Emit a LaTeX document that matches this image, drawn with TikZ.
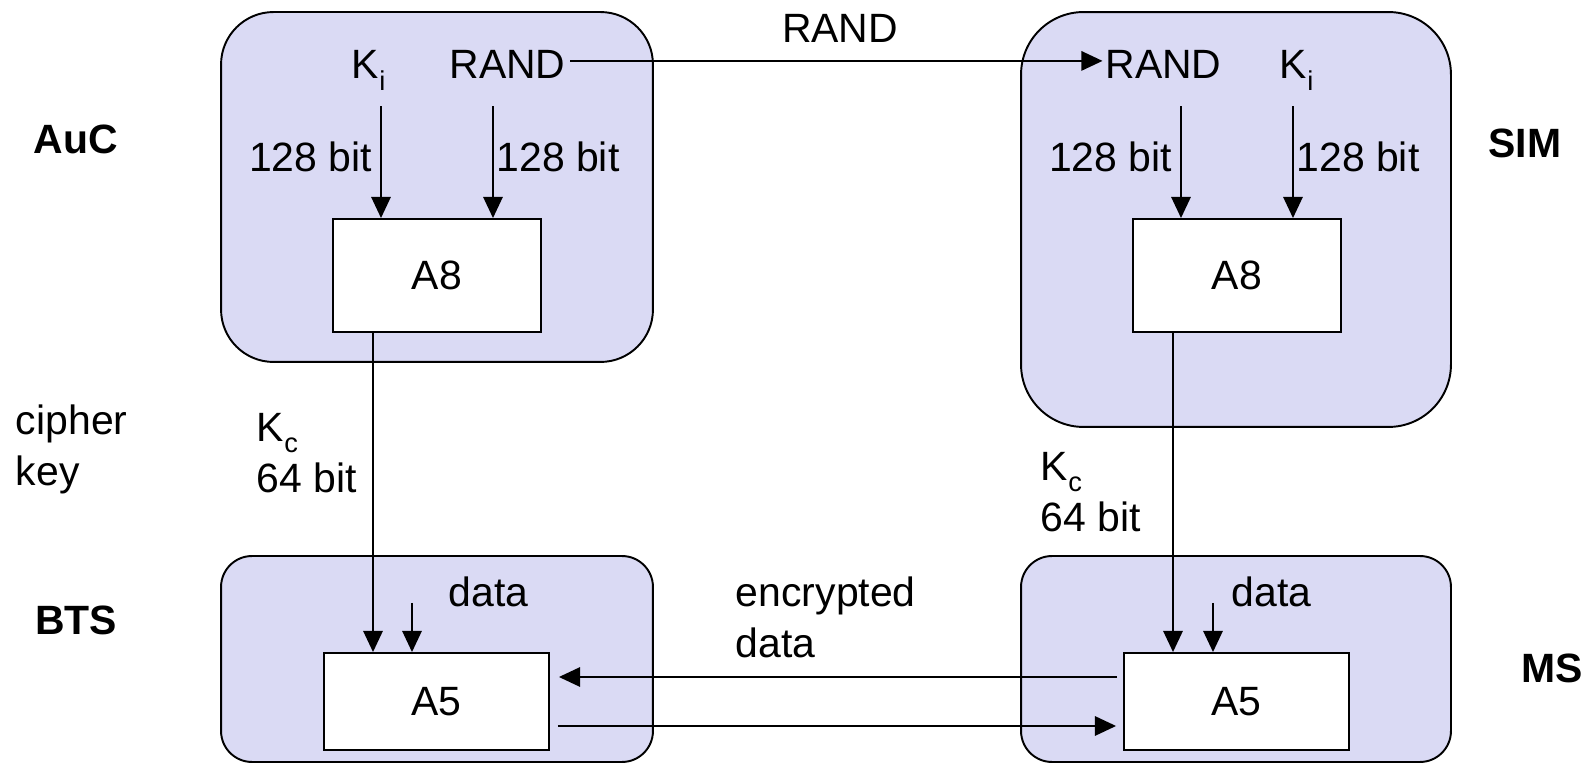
\documentclass[tikz,border=0pt]{standalone}
\usepackage{fontspec}
\setmainfont{Liberation Sans}
\usetikzlibrary{arrows.meta}
\definecolor{unitfill}{RGB}{218,218,244}
\newcommand{\keysub}[1]{\raisebox{-6.3pt}{\fontsize{15.5}{15.5}\selectfont #1}}

\begin{document}
\begin{tikzpicture}[
  x=0.02cm, y=-0.02cm,
  font=\fontsize{23.3}{29}\selectfont,
  line width=1.1pt, >={Triangle[length=12pt,width=11pt]},
  unit/.style={draw, fill=unitfill, inner sep=0pt},
  algo/.style={draw, fill=white, inner sep=0pt},
  txt/.style={inner sep=0pt},
  station/.style={font=\fontsize{23.3}{29}\selectfont\bfseries},
  bitl/.style={left, inner sep=4.5pt, pos=0.45},
  bitr/.style={right, inner sep=1.5pt, pos=0.45}]
  \useasboundingbox (0,0) rectangle (1587,763);
  % units
  \node[unit, rounded corners=1.05cm, minimum width=8.64cm, minimum height=7cm] (auc) at (437,187) {};
  \node[unit, rounded corners=1.25cm, minimum width=8.6cm, minimum height=8.3cm] (sim) at (1236,219.5) {};
  \node[unit, rounded corners=0.62cm, minimum width=8.64cm, minimum height=4.12cm] (bts) at (437,659) {};
  \node[unit, rounded corners=0.62cm, minimum width=8.6cm, minimum height=4.12cm] (ms) at (1236,659) {};
  % algorithms
  \node[algo, minimum width=4.16cm, minimum height=2.26cm] (a8l) at (437,275.5) {A8};
  \node[algo, minimum width=4.16cm, minimum height=2.26cm] (a8r) at (1237,275.5) {A8};
  \node[algo, minimum width=4.5cm, minimum height=1.94cm] (a5l) at (436.5,701.5) {A5};
  \node[algo, minimum width=4.5cm, minimum height=1.94cm] (a5r) at (1236.5,701.5) {A5};
  % station names
  \node[station] (aucname) at (76,139) {AuC};
  \node[station] (simname) at (1525,143) {SIM};
  \node[station] (btsname) at (76,620) {BTS};
  \node[station] (msname) at (1552,668) {MS};
  % inputs of A8
  \node[txt, anchor=base west] (kil) at (351,79) {K\keysub{i}};
  \node[txt, anchor=base] (randl) at (507.5,79) {RAND};
  \node[txt, anchor=base] (randr) at (1163.5,79) {RAND};
  \node[txt, anchor=base west] (kir) at (1279,79) {K\keysub{i}};
  \node[txt, anchor=base] (randlbl) at (840,43) {RAND};
  \draw[->, shorten <=0.08cm, shorten >=0.04cm] ([yshift=0.08cm]randl.east) -- ([yshift=0.08cm]randr.west);
  \draw[->] ([xshift=-1.12cm,yshift=2.24cm]a8l.north) -- node[bitl]{128 bit} ([xshift=-1.12cm]a8l.north);
  \draw[->] ([xshift=1.12cm,yshift=2.24cm]a8l.north) -- node[bitr]{128 bit} ([xshift=1.12cm]a8l.north);
  \draw[->] ([xshift=-1.12cm,yshift=2.24cm]a8r.north) -- node[bitl]{128 bit} ([xshift=-1.12cm]a8r.north);
  \draw[->] ([xshift=1.12cm,yshift=2.24cm]a8r.north) -- node[bitr]{128 bit} ([xshift=1.12cm]a8r.north);
  % cipher key
  \node[txt, anchor=north west, align=left] (cipher) at (15,404) {cipher\\key};
  \node[txt, anchor=north west, align=left] (kcl) at (256,412) {K\keysub{c}\\64 bit};
  \node[txt, anchor=north west, align=left] (kcr) at (1040,451) {K\keysub{c}\\64 bit};
  \draw[->] ([xshift=-1.28cm]a8l.south) -- ([xshift=-1.28cm]a8l.south |- a5l.north);
  \draw[->] ([xshift=-1.28cm]a8r.south) -- ([xshift=-1.28cm]a8r.south |- a5r.north);
  % data
  \node[txt, anchor=base west] (datal) at (448,607) {data};
  \node[txt, anchor=base west] (datar) at (1231,607) {data};
  \draw[->] ([xshift=-0.49cm,yshift=0.08cm]a5l.north |- datal.base) -- ([xshift=-0.49cm]a5l.north);
  \draw[->] ([xshift=-0.47cm,yshift=0.08cm]a5r.north |- datar.base) -- ([xshift=-0.47cm]a5r.north);
  \node[txt, anchor=north west, align=left] (encdata) at (735,576) {encrypted\\data};
  \draw[->, shorten <=0.12cm, shorten >=0.18cm] ([yshift=0.49cm]a5r.west) -- ([yshift=0.49cm]a5l.east);
  \draw[->, shorten <=0.16cm, shorten >=0.14cm] ([yshift=-0.49cm]a5l.east) -- ([yshift=-0.49cm]a5r.west);
\end{tikzpicture}
\end{document}
